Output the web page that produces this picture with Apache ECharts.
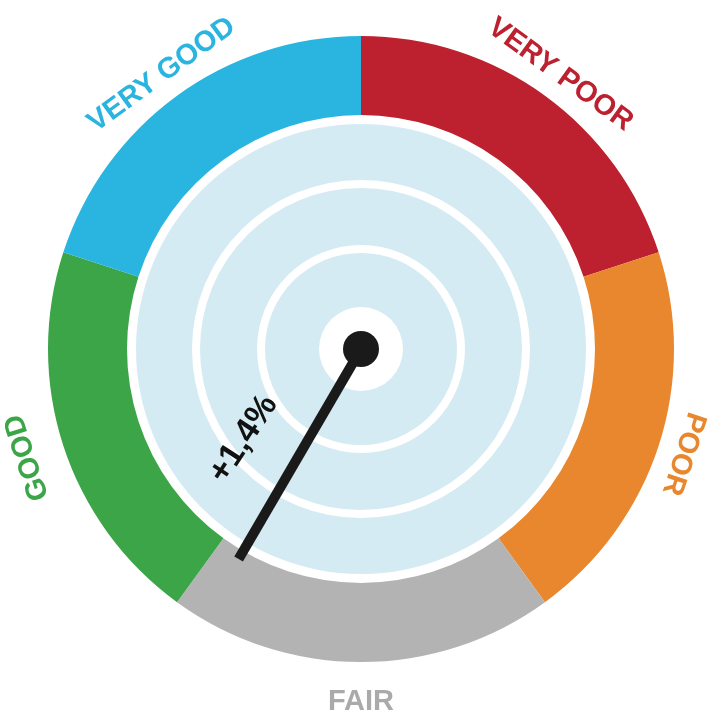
<!DOCTYPE html>
<html>
<head>
<meta charset="utf-8">
<script src="https://cdn.jsdelivr.net/npm/echarts@6/dist/echarts.min.js"></script>
<style>html,body{margin:0;padding:0;background:#fff;}#c{width:708px;height:715px;}</style>
</head>
<body>
<div id="c"></div>
<script>
// ---- data ----
const categories = ['VERY POOR', 'POOR', 'FAIR', 'GOOD', 'VERY GOOD'];
const segmentValues = [1, 1, 1, 1, 1];
const needleValue = 2.92;          // position on the 0–5 rating scale
const needleLabel = '+1,4%';

// ---- styles ----
const segmentColors = ['#bd202e', '#e8872e', '#b3b3b3', '#3ba548', '#29b5e0'];
const labelColors   = ['#bd202e', '#e8872e', '#aaaaaa', '#3ba548', '#29b5e0'];
const labelRadialShift = [0, 0, 14, 12, 0];
const C = [361, 349];
const FONT = '"Liberation Sans", Arial, sans-serif';

const chart = echarts.init(document.getElementById('c'), null, {renderer: 'canvas'});

const n = categories.length;
const step = 360 / n;
function midAngle(i) { return 90 - (i + 0.5) * step; }
function rotInfo(i) {
  let r = midAngle(i) - 90;
  while (r <= -180) r += 360;
  while (r > 180) r -= 360;
  let flipped = false;
  if (Math.abs(r) > 150) { r = r > 0 ? r - 180 : r + 180; flipped = true; }
  return {rot: r, flipped: flipped};
}
function shift(i) {
  const d = labelRadialShift[i];
  return [0, rotInfo(i).flipped ? d : -d];
}

function ring(r0, r1, color, z) {
  return {
    type: 'pie', center: C, radius: [r0, r1], silent: true, z: z,
    label: {show: false}, labelLine: {show: false}, animation: false,
    emphasis: {disabled: true},
    data: [{value: 1, itemStyle: {color: color}}]
  };
}

const option = {
  animation: false,
  polar: {center: C, radius: 313},
  angleAxis: {type: 'value', min: 0, max: n, startAngle: 90, clockwise: true, show: false},
  radiusAxis: {type: 'value', min: 0, max: 313, show: false},
  series: [
    {
      type: 'pie', center: C, radius: [234, 313], startAngle: 90, clockwise: true,
      silent: true, animation: false, emphasis: {disabled: true},
      label: {show: false}, labelLine: {show: false},
      data: categories.map((c, i) => ({name: c, value: segmentValues[i], itemStyle: {color: segmentColors[i]}}))
    },
    {
      type: 'pie', center: C, radius: [326, 346], startAngle: 90, clockwise: true,
      silent: true, animation: false, emphasis: {disabled: true}, avoidLabelOverlap: false,
      labelLine: {show: false},
      itemStyle: {color: 'rgba(0,0,0,0)'},
      data: categories.map((c, i) => ({
        name: c, value: segmentValues[i],
        label: {
          show: true, position: 'inside', formatter: '{b}', rotate: rotInfo(i).rot,
          offset: shift(i), textBorderWidth: 0,
          color: labelColors[i], fontFamily: FONT, fontWeight: 'bold', fontSize: 29
        }
      }))
    },
    ring(0, 225, '#d5ebf3', 2),
    ring(161, 169, '#ffffff', 3),
    ring(96, 104, '#ffffff', 3),
    ring(0, 42, '#ffffff', 3),
    {
      type: 'scatter', coordinateSystem: 'polar', silent: true, z: 4,
      symbolSize: 0, itemStyle: {opacity: 1},
      data: [[148, needleValue + 0.31]],
      label: {
        show: true, position: 'inside', formatter: needleLabel,
        rotate: 90 - needleValue * step + 180 - 3,
        textBorderWidth: 0, textBorderColor: 'transparent', opacity: 1,
        color: '#111111', fontFamily: FONT, fontWeight: 'bold', fontSize: 34
      }
    },
    {
      type: 'gauge', center: C, radius: 313, startAngle: 90, endAngle: -270,
      min: 0, max: n, z: 5, silent: true, animation: false,
      axisLine: {show: false}, splitLine: {show: false}, axisTick: {show: false},
      axisLabel: {show: false}, title: {show: false}, detail: {show: false},
      progress: {show: false},
      pointer: {show: true, icon: 'rect', length: 243, width: 10, itemStyle: {color: '#1a1a1a'}},
      anchor: {show: true, showAbove: true, icon: 'circle', size: 36, itemStyle: {color: '#1a1a1a'}},
      data: [{value: needleValue}]
    }
  ]
};
chart.setOption(option);
</script>
</body>
</html>
